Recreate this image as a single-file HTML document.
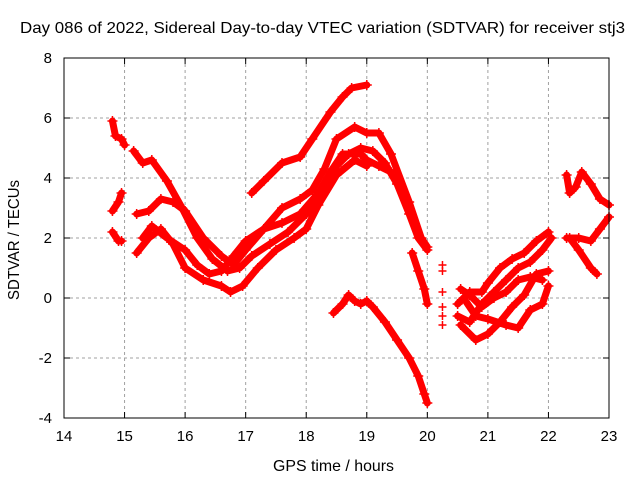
<!DOCTYPE html>
<html><head><meta charset="utf-8"><style>
body{margin:0;background:#fff;}
svg text{font-family:"Liberation Sans",sans-serif;fill:#000;}
</style></head><body>
<svg id="chart" width="640" height="480" viewBox="0 0 640 480" xmlns="http://www.w3.org/2000/svg">
<rect width="640" height="480" fill="#fff"/>
<text x="20" y="33" font-size="16" textLength="605" lengthAdjust="spacingAndGlyphs">Day 086 of 2022, Sidereal Day-to-day VTEC variation (SDTVAR) for receiver stj3</text>
<text x="273" y="471" font-size="16" textLength="121" lengthAdjust="spacingAndGlyphs">GPS time / hours</text>
<text transform="translate(19,300) rotate(-90)" font-size="16" textLength="120" lengthAdjust="spacingAndGlyphs">SDTVAR / TECUs</text>
<g id="grid"></g><g id="ticks"></g><g id="marks"></g>
<rect x="64" y="58" width="545" height="360" fill="none" stroke="#000" stroke-width="1"/>
</svg>
<script>
const xTicks=[14,15,16,17,18,19,20,21,22,23];
const yTicks=[-4,-2,0,2,4,6,8];
const tL1=[[14.8,5.9],[14.85,5.4],[14.95,5.3],[15.0,5.1]];
const tL2=[[14.8,2.9],[14.9,3.2],[14.95,3.5]];
const tL3=[[14.8,2.2],[14.9,1.9],[14.95,1.9]];
const t1=[[15.15,4.9],[15.3,4.5],[15.45,4.6],[15.7,3.9],[15.95,3.0],[16.2,2.0],[16.45,1.3],[16.7,0.9],[16.9,1.0],[17.1,1.4],[17.4,1.8],[17.7,2.2],[18.0,2.8],[18.3,3.6],[18.5,4.4],[18.7,4.8],[18.9,5.0],[19.1,4.9],[19.3,4.5],[19.5,3.8],[19.7,2.8],[19.85,2.0],[20.0,1.6]];
const tTop=[[17.1,3.5],[17.3,3.9],[17.6,4.5],[17.9,4.7],[18.1,5.3],[18.4,6.2],[18.6,6.7],[18.75,7.0],[19.0,7.1]];
const t2=[[15.2,2.8],[15.4,2.9],[15.6,3.3],[15.8,3.2],[16.0,2.9],[16.3,2.0],[16.6,1.4],[16.8,1.1],[17.0,1.6],[17.3,2.3],[17.6,3.0],[17.9,3.3],[18.1,3.6],[18.3,4.3],[18.5,5.3],[18.8,5.7],[19.0,5.5],[19.2,5.5],[19.4,4.8],[19.7,3.2],[19.9,2.0],[20.0,1.7]];
const t3=[[15.3,2.0],[15.45,2.4],[15.7,2.0],[16.0,1.6],[16.2,1.1],[16.4,0.8],[16.6,0.9],[16.8,1.4],[17.0,1.9],[17.3,2.3],[17.6,2.5],[17.9,2.8],[18.2,3.5],[18.4,4.2],[18.6,4.8],[18.9,4.8],[19.0,4.6],[19.2,4.4],[19.4,4.2]];
const t4=[[15.2,1.5],[15.4,2.0],[15.6,2.3],[15.8,1.8],[16.0,1.0],[16.3,0.6],[16.6,0.4],[16.75,0.2],[16.95,0.4],[17.2,1.0],[17.5,1.6],[17.8,2.0],[18.0,2.3],[18.2,3.1],[18.5,4.1],[18.8,4.6],[19.0,4.4]];
const tLow=[[18.45,-0.5],[18.6,-0.2],[18.7,0.1],[18.8,-0.1],[18.9,-0.2],[19.0,-0.1],[19.1,-0.3],[19.3,-0.8],[19.5,-1.4],[19.7,-2.0],[19.85,-2.6],[19.95,-3.2],[20.0,-3.5]];
const tDrop=[[19.75,1.5],[19.85,0.9],[19.95,0.3],[20.0,-0.2]];
const tIso=[[20.25,1.1],[20.25,0.9],[20.25,0.2],[20.25,-0.3],[20.25,-0.6],[20.25,-0.9]];
const r1=[[20.5,-0.2],[20.7,0.2],[20.9,0.2],[21.0,0.5],[21.2,1.0],[21.4,1.3],[21.6,1.5],[21.8,1.9],[22.0,2.2]];
const r2=[[20.5,-0.6],[20.7,-0.8],[20.9,-0.2],[21.1,0.2],[21.3,0.6],[21.5,1.0],[21.7,1.2],[21.9,1.6],[22.05,2.0]];
const r3=[[20.55,-0.9],[20.8,-1.4],[21.0,-1.2],[21.2,-0.8],[21.4,-0.3],[21.6,0.1],[21.8,0.8],[22.0,0.9]];
const r4=[[20.6,0.0],[20.8,-0.6],[21.0,-0.7],[21.3,-0.9],[21.5,-1.0],[21.7,-0.4],[21.9,-0.2],[22.0,0.4]];
const r5=[[20.55,0.3],[20.7,0.1],[20.9,-0.3],[21.1,0.0],[21.3,0.2],[21.5,0.6],[21.7,0.7],[21.9,0.6]];
const e1=[[22.3,4.1],[22.35,3.5],[22.45,3.7],[22.55,4.2],[22.7,3.8],[22.85,3.3],[23.0,3.1]];
const e2=[[22.3,2.0],[22.5,2.0],[22.7,1.9],[22.85,2.3],[23.0,2.7]];
const e3=[[22.35,2.0],[22.5,1.6],[22.7,1.0],[22.8,0.8]];
const seriesList=[tL1,tL2,tL3,t1,tTop,t2,t3,t4,tLow,tDrop,r1,r2,r3,r4,r5,e1,e2,e3];
const X0=64,X1=609,Y0=418,Y1=58;
function sx(v){return X0+(v-14)/(23-14)*(X1-X0);}
function sy(v){return Y0-(v+4)/(8+4)*(Y0-Y1);}
const NS="http://www.w3.org/2000/svg";
const grid=document.getElementById('grid'),ticks=document.getElementById('ticks'),marks=document.getElementById('marks');
function mk(tag,attrs,parent){const e=document.createElementNS(NS,tag);for(const k in attrs)e.setAttribute(k,attrs[k]);parent.appendChild(e);return e;}
xTicks.forEach(t=>{const x=sx(t);
 if(t>14&&t<23){const g=mk('line',{x1:x,x2:x,y1:Y1,y2:Y0,stroke:'#a0a0a0','stroke-dasharray':'3,3'},grid);
 
 }
 mk('line',{x1:x,x2:x,y1:Y0,y2:Y0-6,stroke:'#000'},ticks);
 mk('line',{x1:x,x2:x,y1:Y1,y2:Y1+6,stroke:'#000'},ticks);
 const l=mk('text',{x:x,y:Y0+23,'font-size':'15','text-anchor':'middle'},ticks);l.textContent=t;
 
 });
yTicks.forEach(t=>{const y=sy(t);
 if(t>-4&&t<8){const g=mk('line',{x1:X0,x2:X1,y1:y,y2:y,stroke:'#a0a0a0','stroke-dasharray':'3,3'},grid);
 
 }
 mk('line',{x1:X0,x2:X0+6,y1:y,y2:y,stroke:'#000'},ticks);
 mk('line',{x1:X1,x2:X1-6,y1:y,y2:y,stroke:'#000'},ticks);
 const l=mk('text',{x:X0-12,y:y+5,'font-size':'15','text-anchor':'end'},ticks);l.textContent=t;
 
 });
seriesList.forEach(s=>{
 const pl=mk('polyline',{points:s.map(p=>sx(p[0])+','+sy(p[1])).join(' '),fill:'none',stroke:'#ff0000','stroke-width':'7','stroke-linejoin':'round','stroke-linecap':'round'},marks);
 
 
 s.forEach(p=>{const x=sx(p[0]),y=sy(p[1]);
  const m=mk('path',{d:`M${x-5},${y}H${x+5}M${x},${y-5}V${y+5}`,stroke:'#ff0000','stroke-width':'1.5'},marks);
  
  });
});
tIso.forEach(p=>{const x=sx(p[0]),y=sy(p[1]);
 const m=mk('path',{d:`M${x-4},${y}H${x+4}M${x},${y-4}V${y+4}`,stroke:'#ff0000','stroke-width':'1.5'},marks);
 
 });
</script>
</body></html>
